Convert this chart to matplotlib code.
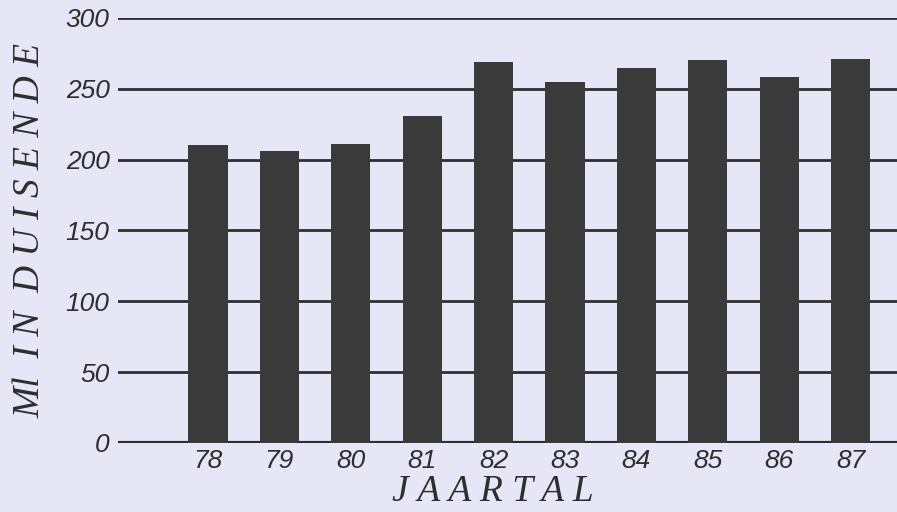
import matplotlib.pyplot as plt
import numpy as np

years = ['78', '79', '80', '81', '82', '83', '84', '85', '86', '87']
ml = [210, 206, 211, 231, 269, 255, 265, 270, 258, 271]
yticks = [0, 50, 100, 150, 200, 250, 300]

bg = '#e6e6f6'
ink = '#2e2e2e'

fig = plt.figure(figsize=(8.97, 5.12), dpi=100, facecolor=bg)
ax = fig.add_axes([0.1315, 0.1348, 0.8685, 0.8302], facecolor=bg)

x = np.arange(len(years))
for v in yticks:
    ax.axhline(v, color=ink, lw=3.0 if v == 0 else 2.0, zorder=1)
ax.bar(x, ml, width=0.55, color='#3a3a3a', zorder=2)

ax.set_xlim(-1.26, 9.65)
ax.set_ylim(0, 300)
ax.set_xticks(x)
ax.set_xticklabels(years, fontsize=19, style='italic', family='Liberation Sans', color=ink)
ax.set_yticks(yticks)
ax.set_yticklabels([str(v) for v in yticks], fontsize=19, style='italic', family='Liberation Sans', color=ink)
ax.tick_params(length=0, pad=4)
ax.tick_params(axis='y', pad=6)
for s in ax.spines.values():
    s.set_visible(False)

# axis titles placed by hand, like the scanned original
fig.text(493 / 897, 1 - 492 / 512, 'J A A R T A L', fontsize=27, style='italic',
         family='Liberation Serif', color=ink, ha='center', va='center')
fig.text(30 / 897, 1 - 230 / 512, 'Ml  I N  D U I S E N D E', fontsize=27, style='italic',
         family='Liberation Serif', color=ink, ha='center', va='center', rotation=90)

plt.savefig('out.png', dpi=100, facecolor=bg)
